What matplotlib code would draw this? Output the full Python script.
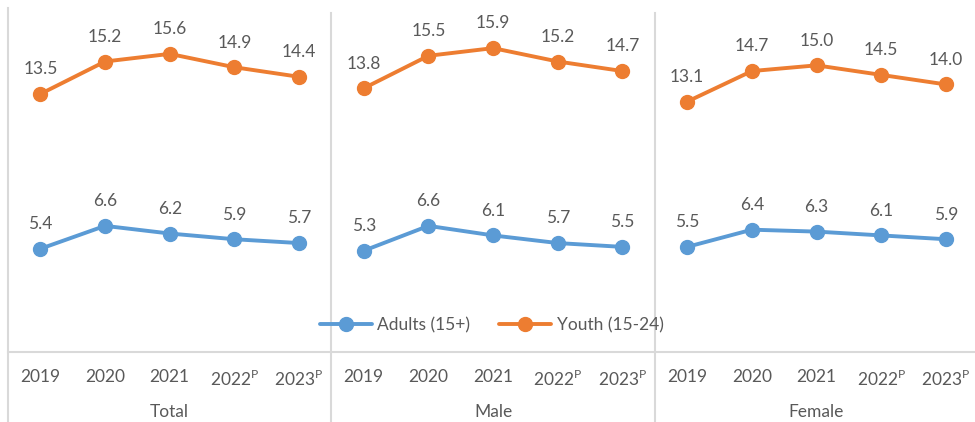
import matplotlib

matplotlib.use("Agg")
import matplotlib.pyplot as plt
import matplotlib.transforms as mtransforms

GROUPS = ["Total", "Male", "Female"]
YEARS = ["2019", "2020", "2021", "2022$^{\\mathrm{P}}$", "2023$^{\\mathrm{P}}$"]

ADULTS = {
    "Total": [5.4, 6.6, 6.2, 5.9, 5.7],
    "Male": [5.3, 6.6, 6.1, 5.7, 5.5],
    "Female": [5.5, 6.4, 6.3, 6.1, 5.9],
}
YOUTH = {
    "Total": [13.5, 15.2, 15.6, 14.9, 14.4],
    "Male": [13.8, 15.5, 15.9, 15.2, 14.7],
    "Female": [13.1, 14.7, 15.0, 14.5, 14.0],
}

BLUE = "#5B9BD5"
ORANGE = "#ED7D31"
TEXT = "#595959"
GRID = "#D9D9D9"
FS = 12.5

plt.rcParams["font.family"] = ["Lato", "DejaVu Sans"]
plt.rcParams["mathtext.fontset"] = "custom"
plt.rcParams["mathtext.rm"] = "Lato"

fig = plt.figure(figsize=(9.75, 4.22), dpi=100)
ax = fig.add_axes([8 / 975, 70 / 422, 967 / 975, 344 / 422])

n = len(YEARS)
for series, color, label in [(ADULTS, BLUE, "Adults (15+)"), (YOUTH, ORANGE, "Youth (15-24)")]:
    for g, group in enumerate(GROUPS):
        xs = [g * n + i for i in range(n)]
        vals = series[group]
        ax.plot(xs, vals, color=color, lw=2.8, marker="o", ms=10,
                solid_capstyle="round", label=label if g == 0 else None)
        for x, v in zip(xs, vals):
            ax.annotate(f"{v:.1f}", (x, v), xytext=(0, 12), textcoords="offset points",
                        ha="center", va="bottom", fontsize=FS, color=TEXT)

ax.set_xlim(-0.5, 3 * n - 0.55)
ax.set_ylim(0, 18)
ax.set_yticks([])
ax.set_xticks(range(3 * n))
ax.set_xticklabels(YEARS * 3, fontsize=FS, color=TEXT)
ax.tick_params(axis="x", length=0, pad=12)

for s in ["top", "right", "left"]:
    ax.spines[s].set_visible(False)
ax.spines["bottom"].set_color(GRID)
ax.spines["bottom"].set_linewidth(1.5)

# group separators, running down through the category labels
trans = mtransforms.blended_transform_factory(ax.transData, ax.transAxes)
for g in range(3):
    ax.plot([g * n - 0.5] * 2, [-0.21, 1.0 if g == 0 else 0.985], color=GRID, lw=1.5,
            transform=trans, clip_on=False)
    ax.text(g * n + (n - 1) / 2, -0.174, GROUPS[g], transform=trans,
            ha="center", va="center", fontsize=FS, color=TEXT)

ax.legend(loc="center", bbox_to_anchor=(0.5, 0.078), ncol=2, frameon=False,
          fontsize=FS, labelcolor=TEXT, handlelength=3.0, handletextpad=0.3,
          columnspacing=1.7, borderaxespad=0)

fig.savefig("out.png", dpi=100)
